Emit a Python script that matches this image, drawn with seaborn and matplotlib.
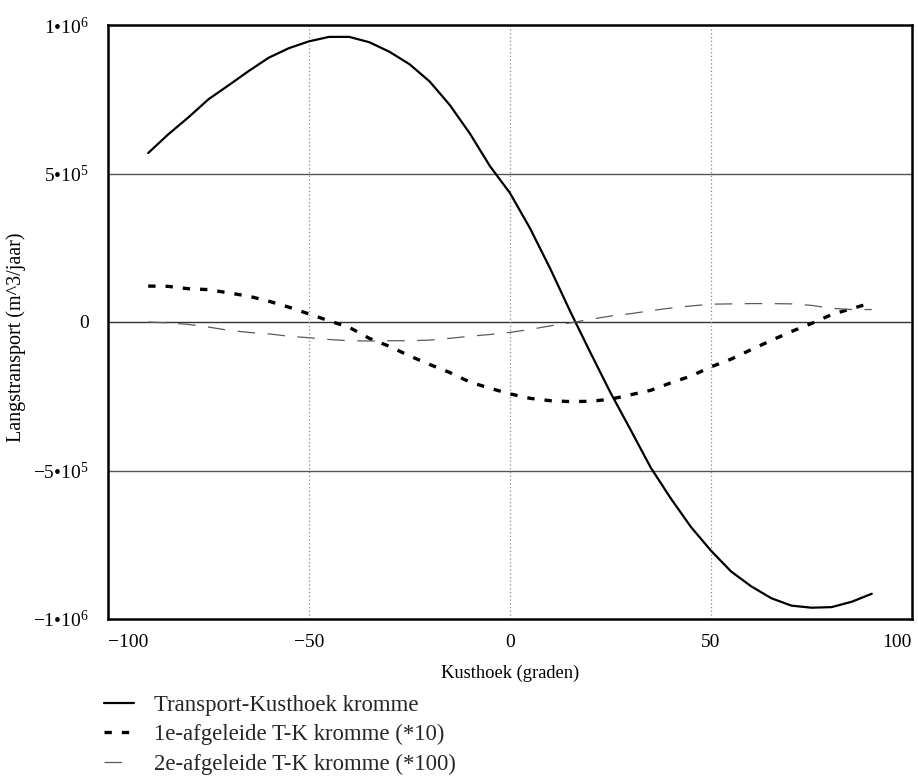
import numpy as np
import pandas as pd
import matplotlib
matplotlib.use("Agg")
import matplotlib.pyplot as plt
import seaborn as sns

# ---- data ----
hoek = [-90, -85, -80, -75, -70, -65, -60, -55, -50, -45, -40, -35, -30, -25, -20,
        -15, -10, -5, 0, 5, 10, 15, 20, 25, 30, 35, 40, 45, 50, 55, 60, 65, 70, 75,
        80, 85, 90]
transport = [569e3, 632e3, 689e3, 750e3, 797e3, 845e3, 890e3, 922e3, 945e3, 960e3,
             960e3, 942e3, 910e3, 868e3, 810e3, 731e3, 635e3, 525e3, 434e3, 315e3,
             180e3, 35e3, -103e3, -238e3, -363e3, -490e3, -594e3, -690e3, -770e3,
             -840e3, -890e3, -930e3, -955e3, -962e3, -960e3, -942e3, -915e3]
afgeleide1 = [121e3, 120e3, 112e3, 109e3, 98e3, 87e3, 70e3, 50e3, 27e3, 4e3, -18e3,
              -55e3, -82e3, -114e3, -143e3, -170e3, -202e3, -223e3, -242e3, -257e3,
              -265e3, -268e3, -267e3, -260e3, -245e3, -230e3, -205e3, -182e3, -151e3,
              -125e3, -93e3, -62e3, -32e3, -5e3, 25e3, 45e3, 65e3]
afgeleide2 = [0, -3e3, -8e3, -17e3, -28e3, -35e3, -40e3, -48e3, -53e3, -59e3, -63e3,
              -64e3, -63e3, -63e3, -61e3, -55e3, -48e3, -42e3, -35e3, -25e3, -13e3,
              -3e3, 9e3, 20e3, 28e3, 38e3, 47e3, 54e3, 60e3, 61e3, 62e3, 62e3, 61e3,
              56e3, 46e3, 42e3, 42e3]
labels = ["Transport-Kusthoek kromme",
          "1e-afgeleide T-K kromme (*10)",
          "2e-afgeleide T-K kromme (*100)"]
xticks = [-100, -50, 0, 50, 100]
xticklabels = ["\u2212100", "\u221250", "0", "50", "100"]
yticks = [-1e6, -5e5, 0, 5e5, 1e6]
yticklabels = ["\u22121\u202210$^{6}$", "\u22125\u202210$^{5}$", "0",
               "5\u202210$^{5}$", "1\u202210$^{6}$"]

sns.set_theme(style="white")
plt.rcParams["font.family"] = ["Liberation Serif", "DejaVu Serif"]
plt.rcParams["mathtext.fontset"] = "custom"
plt.rcParams["mathtext.rm"] = "Liberation Serif"
plt.rcParams["mathtext.it"] = "Liberation Serif:italic"
plt.rcParams["mathtext.bf"] = "Liberation Serif:bold"

df = pd.DataFrame({"hoek": hoek, "T": transport, "d1": afgeleide1, "d2": afgeleide2})

fig = plt.figure(figsize=(9.18, 7.78), dpi=100)
ax = fig.add_axes([108 / 918, 1 - 619 / 778, (912 - 108) / 918, (619 - 25) / 778])

# grid lines
for yv, c in [(-5e5, "#555555"), (0, "#333333"), (5e5, "#555555")]:
    ax.axhline(yv, color=c, lw=1.0, zorder=1)
for xv in [-50, 0, 50]:
    ax.axvline(xv, color="#8a8a8a", lw=0.9, ls=(0, (1, 2)), zorder=1)

sns.lineplot(data=df, x="hoek", y="T", ax=ax, color="black", lw=1.6,
             label=labels[0], zorder=3)
sns.lineplot(data=df, x="hoek", y="d1", ax=ax, color="black", lw=2.4,
             linestyle=(0, (2.2, 3.0)), label=labels[1], zorder=3)
sns.lineplot(data=df, x="hoek", y="d2", ax=ax, color="#5a5a5a", lw=0.9,
             linestyle=(0, (14, 10)), label=labels[2], zorder=3)

ax.set_xlim(-100, 100)
ax.set_ylim(-1e6, 1e6)
ax.set_xticks(xticks)
ax.set_xticklabels(xticklabels)
ax.set_yticks(yticks)
ax.set_yticklabels(yticklabels)
ax.tick_params(axis="both", length=0, labelsize=14, colors="black")
ax.tick_params(axis="y", pad=14)
ax.tick_params(axis="x", pad=11)
xtl = ax.get_xticklabels()
xtl[0].set_ha("left")
xtl[-1].set_ha("right")
for s in ax.spines.values():
    s.set_color("black")
    s.set_linewidth(1.8)

ax.set_xlabel("Kusthoek (graden)", fontsize=13.3, labelpad=10, color="black")
ax.set_ylabel("Langstransport (m^3/jaar)", fontsize=14.5, color="black")
ax.yaxis.set_label_coords(-82 / 804, 0.475)

handles, labs = ax.get_legend_handles_labels()
ax.get_legend().remove()
fig.legend(handles, labs, loc="upper left", bbox_to_anchor=(104 / 918, 1 - 695 / 778),
           frameon=False, fontsize=16.4, handlelength=1.3, handletextpad=0.9,
           labelspacing=0.36, borderaxespad=0, borderpad=0)

fig.savefig("out.png", dpi=100, facecolor="white")
